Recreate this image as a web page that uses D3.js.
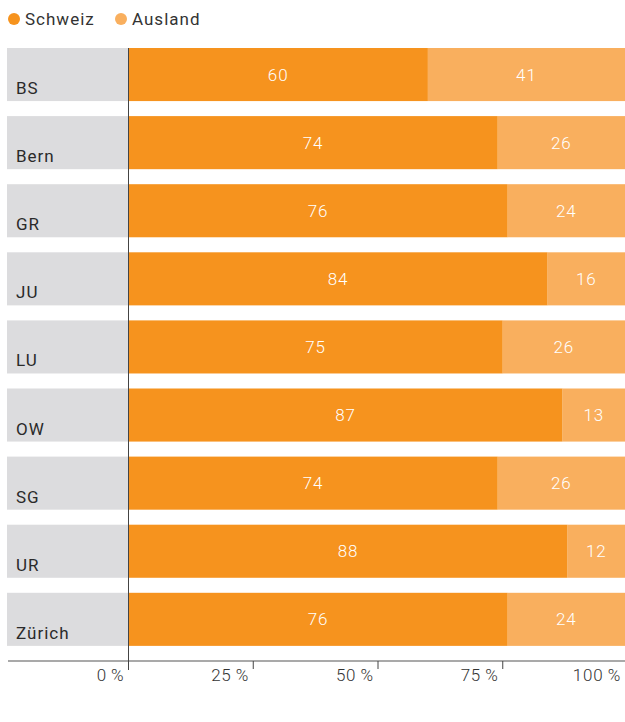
<!DOCTYPE html>
<html>
<head>
<meta charset="utf-8">
<script src="https://cdn.jsdelivr.net/npm/d3@7"></script>
<style>
  body { margin: 0; background: #fff; }
  svg { font-family: Roboto, sans-serif; font-weight: 300; display: block; }
</style>
</head>
<body>
<script>
var regions = ["BS", "Bern", "GR", "JU", "LU", "OW", "SG", "UR", "Zürich"];
var schweiz = [60, 74, 76, 84, 75, 87, 74, 88, 76];
var ausland = [41, 26, 24, 16, 26, 13, 26, 12, 24];
var seriesNames = ["Schweiz", "Ausland"];
var colors = ["#f6931e", "#f9af5e"];
var tickValues = [0, 25, 50, 75, 100];

var width = 625, height = 722;

var svg = d3.select("body").append("svg")
    .attr("width", width)
    .attr("height", height);

var x = d3.scaleLinear().domain([0, 100]).range([128.5, 627.5]);

var p = 15 / 68;
var y = d3.scaleBand()
    .domain(regions)
    .range([48, 48 + 9 * 68.1])
    .paddingInner(p)
    .paddingOuter(p / 2)
    .align(0);

// Legend
var legend = svg.append("g");
var legendX = [14, 121];
seriesNames.forEach(function (name, i) {
    legend.append("circle")
        .attr("cx", legendX[i])
        .attr("cy", 19)
        .attr("r", 6)
        .style("fill", colors[i]);
    legend.append("text")
        .attr("x", legendX[i] + 11)
        .attr("y", 25)
        .style("font-size", "17px")
        .style("font-weight", 400)
        .style("fill", "#333")
        .style("letter-spacing", "1px")
        .text(name);
});

// Row backgrounds + labels
var rows = svg.append("g").selectAll("g")
    .data(regions)
    .enter()
    .append("g");

rows.append("rect")
    .attr("x", 7)
    .attr("y", function (d) { return y(d); })
    .attr("width", x(0) - 7)
    .attr("height", y.bandwidth())
    .style("fill", "#dcdcde");

rows.append("text")
    .attr("x", 16)
    .attr("y", function (d) { return y(d) + y.bandwidth() - 7; })
    .style("font-size", "17px")
    .style("font-weight", 400)
    .style("fill", "#2a2a2a")
    .style("letter-spacing", "1px")
    .text(function (d) { return d; });

// Stacked bars
var table = regions.map(function (r, i) {
    return { region: r, vals: [schweiz[i], ausland[i]] };
});

var segs = [];
table.forEach(function (d) {
    var start = 0;
    d.vals.forEach(function (v, j) {
        var end = Math.min(start + v, 100);
        segs.push({ region: d.region, x0: start, x1: end, value: v, s: j });
        start += v;
    });
});

var bars = svg.append("g");
bars.selectAll("rect")
    .data(segs)
    .enter()
    .append("rect")
    .attr("x", function (d) { return x(d.x0); })
    .attr("y", function (d) { return y(d.region); })
    .attr("width", function (d) { return x(d.x1) - x(d.x0); })
    .attr("height", y.bandwidth())
    .style("fill", function (d) { return colors[d.s]; });

bars.selectAll("text")
    .data(segs)
    .enter()
    .append("text")
    .attr("x", function (d) { return (x(d.x0) + Math.min(x(d.x1), width)) / 2; })
    .attr("y", function (d) { return y(d.region) + y.bandwidth() / 2 + 1.5; })
    .attr("text-anchor", "middle")
    .attr("dominant-baseline", "middle")
    .style("font-size", "17px")
    .style("fill", "#fff")
    .style("letter-spacing", "1px")
    .text(function (d) { return d.value; });

// Axis
var axisY = 661;
svg.append("line")
    .attr("x1", 8).attr("x2", width)
    .attr("y1", axisY).attr("y2", axisY)
    .style("stroke", "#555")
    .style("stroke-width", 1.2);

svg.append("line")
    .attr("x1", x(0)).attr("x2", x(0))
    .attr("y1", 48).attr("y2", 670)
    .style("stroke", "#444")
    .style("stroke-width", 1);

var ticks = svg.append("g").selectAll("g")
    .data(tickValues)
    .enter()
    .append("g");

ticks.filter(function (d) { return d > 0 && d < 100; })
    .append("line")
    .attr("x1", function (d) { return x(d); })
    .attr("x2", function (d) { return x(d); })
    .attr("y1", axisY)
    .attr("y2", axisY + 8)
    .style("stroke", "#444");

ticks.append("text")
    .attr("x", function (d) { return Math.min(x(d), width) - 4; })
    .attr("y", 681)
    .attr("text-anchor", "end")
    .style("font-size", "17px")
    .style("fill", "#333")
    .style("letter-spacing", "0.8px")
    .text(function (d) { return d + "\u2009%"; });
</script>
</body>
</html>
